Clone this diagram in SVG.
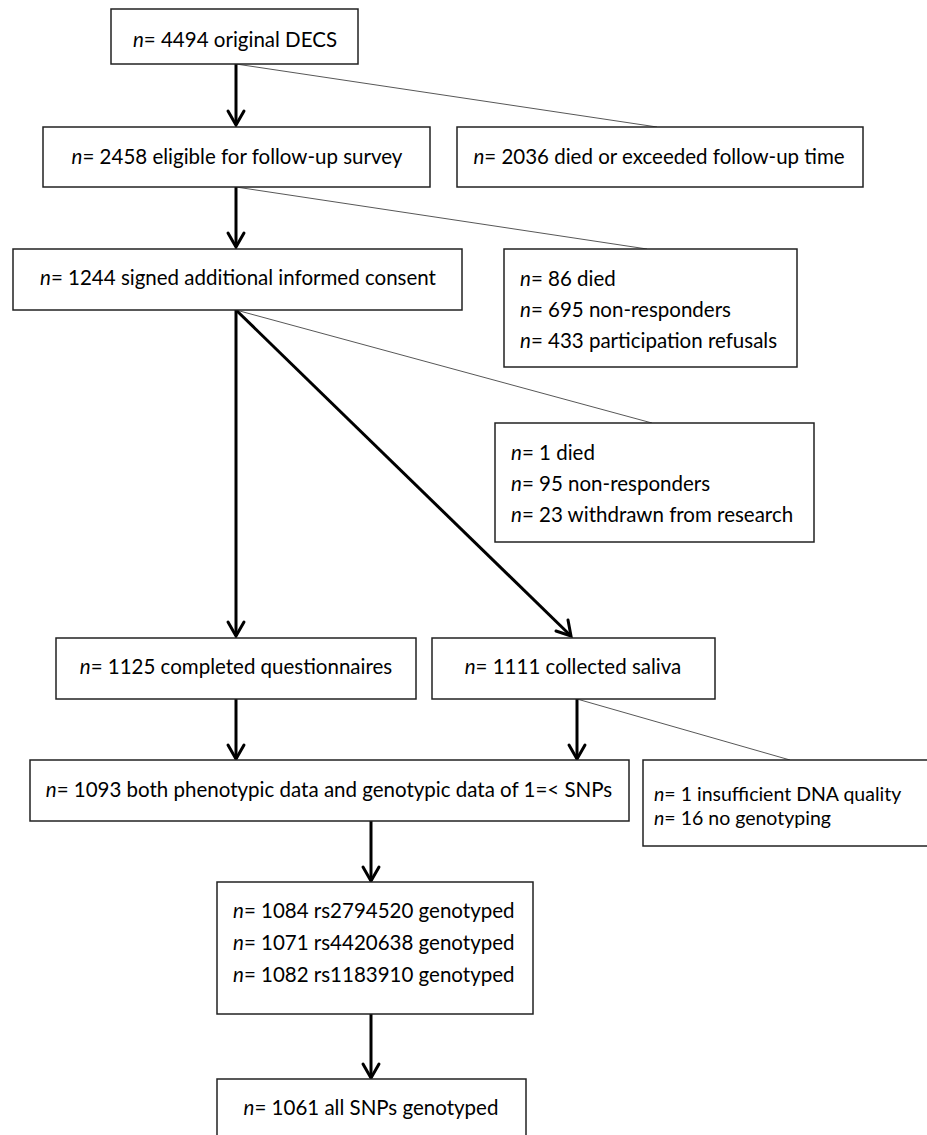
<svg xmlns="http://www.w3.org/2000/svg" width="927" height="1135" viewBox="0 0 927 1135">
<style>
.box{fill:#fff;stroke:#222;stroke-width:1.5}
text{font-family:Lato,"Liberation Sans",sans-serif;font-size:20.5px;fill:#000}
.c{text-anchor:middle}
.i{font-style:italic}
.s{font-size:19.5px}
.thin{stroke:#444;stroke-width:0.9;fill:none}
.arr{stroke:#000;stroke-width:3;fill:none}
.head{stroke:#000;stroke-width:3;fill:none;stroke-linecap:round;stroke-linejoin:miter}
</style>
<rect width="927" height="1135" fill="#fff"/>
<g id="connectors">
<line class="thin" x1="236" y1="64" x2="657" y2="127"/>
<line class="thin" x1="236" y1="187" x2="647" y2="249"/>
<line class="thin" x1="236" y1="310" x2="652" y2="423"/>
<line class="thin" x1="577" y1="699" x2="790" y2="760"/>
<line class="arr" x1="236" y1="64" x2="236" y2="125"/>
<polyline class="head" points="228,111 236,125 244,111"/>
<line class="arr" x1="236" y1="187" x2="236" y2="247"/>
<polyline class="head" points="228,233 236,247 244,233"/>
<line class="arr" x1="236" y1="310" x2="236" y2="636"/>
<polyline class="head" points="228,622 236,636 244,622"/>
<line class="arr" x1="236" y1="310" x2="571" y2="636"/>
<polyline class="head" points="556,631 571,636 568,620"/>
<line class="arr" x1="236" y1="699" x2="236" y2="759"/>
<polyline class="head" points="228,745 236,759 244,745"/>
<line class="arr" x1="577" y1="699" x2="577" y2="759"/>
<polyline class="head" points="569,745 577,759 585,745"/>
<line class="arr" x1="371" y1="821" x2="371" y2="881"/>
<polyline class="head" points="363,867 371,881 379,867"/>
<line class="arr" x1="371" y1="1014" x2="371" y2="1078"/>
<polyline class="head" points="363,1064 371,1078 379,1064"/>
</g>
<g id="n4494">
<rect class="box" x="111" y="9" width="247" height="55"/>
<text class="c" x="235" y="47"><tspan class="i">n</tspan>= 4494 original DECS</text>
</g>
<g id="n2458">
<rect class="box" x="43" y="127" width="387" height="60"/>
<text class="c" x="237" y="164"><tspan class="i">n</tspan>= 2458 eligible for follow-up survey</text>
</g>
<g id="n2036">
<rect class="box" x="457" y="127" width="406" height="60"/>
<text class="c" x="659" y="164"><tspan class="i">n</tspan>= 2036 died or exceeded follow-up time</text>
</g>
<g id="n1244">
<rect class="box" x="13" y="249" width="449" height="61"/>
<text class="c" x="238" y="285"><tspan class="i">n</tspan>= 1244 signed additional informed consent</text>
</g>
<g id="excl1">
<rect class="box" x="504" y="249" width="293" height="118"/>
<text x="520" y="286"><tspan class="i">n</tspan>= 86 died</text>
<text x="520" y="317"><tspan class="i">n</tspan>= 695 non-responders</text>
<text x="520" y="348"><tspan class="i">n</tspan>= 433 participation refusals</text>
</g>
<g id="excl2">
<rect class="box" x="495" y="423" width="319" height="119"/>
<text x="511" y="460"><tspan class="i">n</tspan>= 1 died</text>
<text x="511" y="491"><tspan class="i">n</tspan>= 95 non-responders</text>
<text x="511" y="522"><tspan class="i">n</tspan>= 23 withdrawn from research</text>
</g>
<g id="n1125">
<rect class="box" x="56" y="638" width="360" height="61"/>
<text class="c" x="236" y="674"><tspan class="i">n</tspan>= 1125 completed questionnaires</text>
</g>
<g id="n1111">
<rect class="box" x="432" y="638" width="283" height="61"/>
<text class="c" x="573" y="674"><tspan class="i">n</tspan>= 1111 collected saliva</text>
</g>
<g id="n1093">
<rect class="box" x="30" y="760" width="599" height="61"/>
<text class="c" x="329" y="797"><tspan class="i">n</tspan>= 1093 both phenotypic data and genotypic data of 1=&lt; SNPs</text>
</g>
<g id="excl3">
<rect class="box" x="643" y="760" width="290" height="86"/>
<text class="s" x="654" y="801"><tspan class="i">n</tspan>= 1 insufficient DNA quality</text>
<text class="s" x="654" y="825"><tspan class="i">n</tspan>= 16 no genotyping</text>
</g>
<g id="snps">
<rect class="box" x="217" y="882" width="316" height="132"/>
<text x="233" y="918"><tspan class="i">n</tspan>= 1084 rs2794520 genotyped</text>
<text x="233" y="950"><tspan class="i">n</tspan>= 1071 rs4420638 genotyped</text>
<text x="233" y="982"><tspan class="i">n</tspan>= 1082 rs1183910 genotyped</text>
</g>
<g id="n1061">
<rect class="box" x="217" y="1079" width="309" height="70"/>
<text class="c" x="371" y="1115"><tspan class="i">n</tspan>= 1061 all SNPs genotyped</text>
</g>
</svg>
